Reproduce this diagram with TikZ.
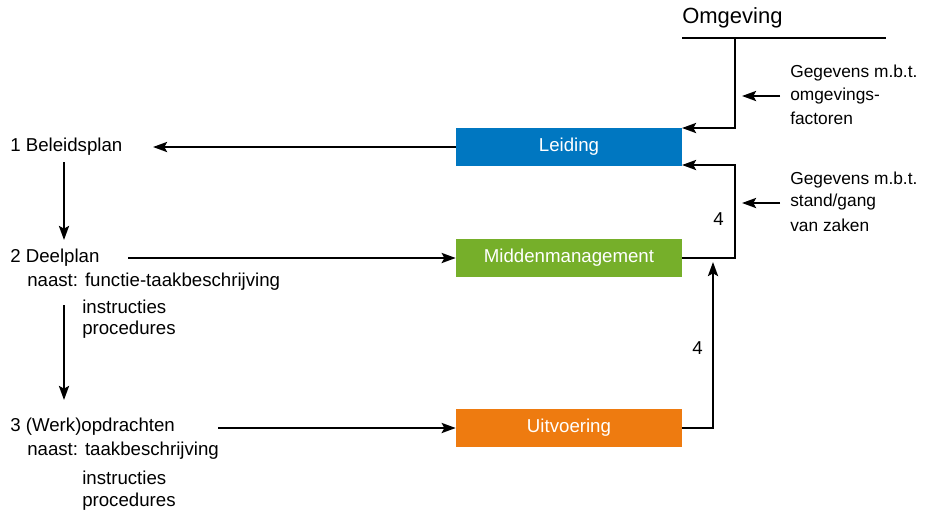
\documentclass[tikz,border=0pt]{standalone}
\usepackage{fontspec}
\setmainfont{Liberation Sans}
\usetikzlibrary{arrows.meta}
\definecolor{cblue}{HTML}{0077C1}
\definecolor{cgreen}{HTML}{76AF2A}
\definecolor{corange}{HTML}{EE7B10}
\tikzset{
  box/.style={minimum width=169.5pt,minimum height=28.5pt,inner sep=0pt,text=white,font=\fontsize{14}{16}\selectfont},
  txt/.style={anchor=west,inner sep=0pt,font=\fontsize{14}{16}\selectfont},
  rtxt/.style={anchor=west,inner sep=0pt,font=\fontsize{13}{16}\selectfont},
  ln/.style={line width=1.9pt},
  arr/.style={line width=1.9pt,-{Stealth[length=10.5pt,width=7.5pt,inset=2pt]}},
}
\begin{document}
\begin{tikzpicture}[x=0.75pt,y=-0.75pt]
\useasboundingbox (0,0) rectangle (929,515);
% boxes
\node[box,fill=cblue] (lei) at (569,147) {Leiding};
\node[box,fill=cgreen] (mid) at (569,258) {Middenmanagement};
\node[box,fill=corange] (uit) at (569,428) {Uitvoering};
% left texts
\node[txt] (b1) at (10,147) {1 Beleidsplan};
\node[txt] (b2) at (10,258) {2 Deelplan};
\node[txt] (b2a) at (27,282) {naast: functie-taakbeschrijving};
\node[txt] (b2b) at (82,307) {instructies};
\node[txt] (b2c) at (82,330) {procedures};
\node[txt] (b3) at (10,427) {3 (Werk)opdrachten};
\node[txt] (b3a) at (27,451) {naast: taakbeschrijving};
\node[txt] (b3b) at (82,478) {instructies};
\node[txt] (b3c) at (82,502) {procedures};
% right texts
\node[txt,font=\fontsize{16.5}{18}\selectfont] (omg) at (682,18) {Omgeving};
\node[rtxt] (g1a) at (790,73) {Gegevens m.b.t.};
\node[rtxt] (g1b) at (790,96) {omgevings-};
\node[rtxt] (g1c) at (790,118) {factoren};
\node[rtxt] (g2a) at (790,180) {Gegevens m.b.t.};
\node[rtxt] (g2b) at (790,202) {stand/gang};
\node[rtxt] (g2c) at (790,225) {van zaken};
\node[txt] (n4a) at (713,219) {4};
\node[txt] (n4b) at (692,348) {4};
% coordinates
\coordinate (oL) at (682,38);
\coordinate (oR) at (886,38);
\coordinate (oT) at (735,38);
\coordinate (t1) at (153,147);
\coordinate (d1s) at (64,162);
\coordinate (d1e) at (64,240);
\coordinate (d2s) at (64,305);
\coordinate (d2e) at (64,400);
\coordinate (s2) at (128,258);
\coordinate (s3) at (218,428);
\coordinate (lt) at (682,128);
\coordinate (lb) at (682,165);
\coordinate (mt) at (713,262);
\coordinate (a1s) at (780,96);
\coordinate (a1e) at (742,96);
\coordinate (a2s) at (780,203);
\coordinate (a2e) at (742,203);
% lines
\draw[ln] (oL) -- (oR);
\draw[arr] (oT) |- (lt);
\draw[arr] (mid.east) -| (735,165) -- (lb);
\draw[arr] (uit.east) -| (mt);
\draw[arr] (a1s) -- (a1e);
\draw[arr] (a2s) -- (a2e);
\draw[arr] (lei.west) -- (t1);
\draw[arr] (d1s) -- (d1e);
\draw[arr] (d2s) -- (d2e);
\draw[arr] (s2) -- (mid.west);
\draw[arr] (s3) -- (uit.west);
\end{tikzpicture}
\end{document}
